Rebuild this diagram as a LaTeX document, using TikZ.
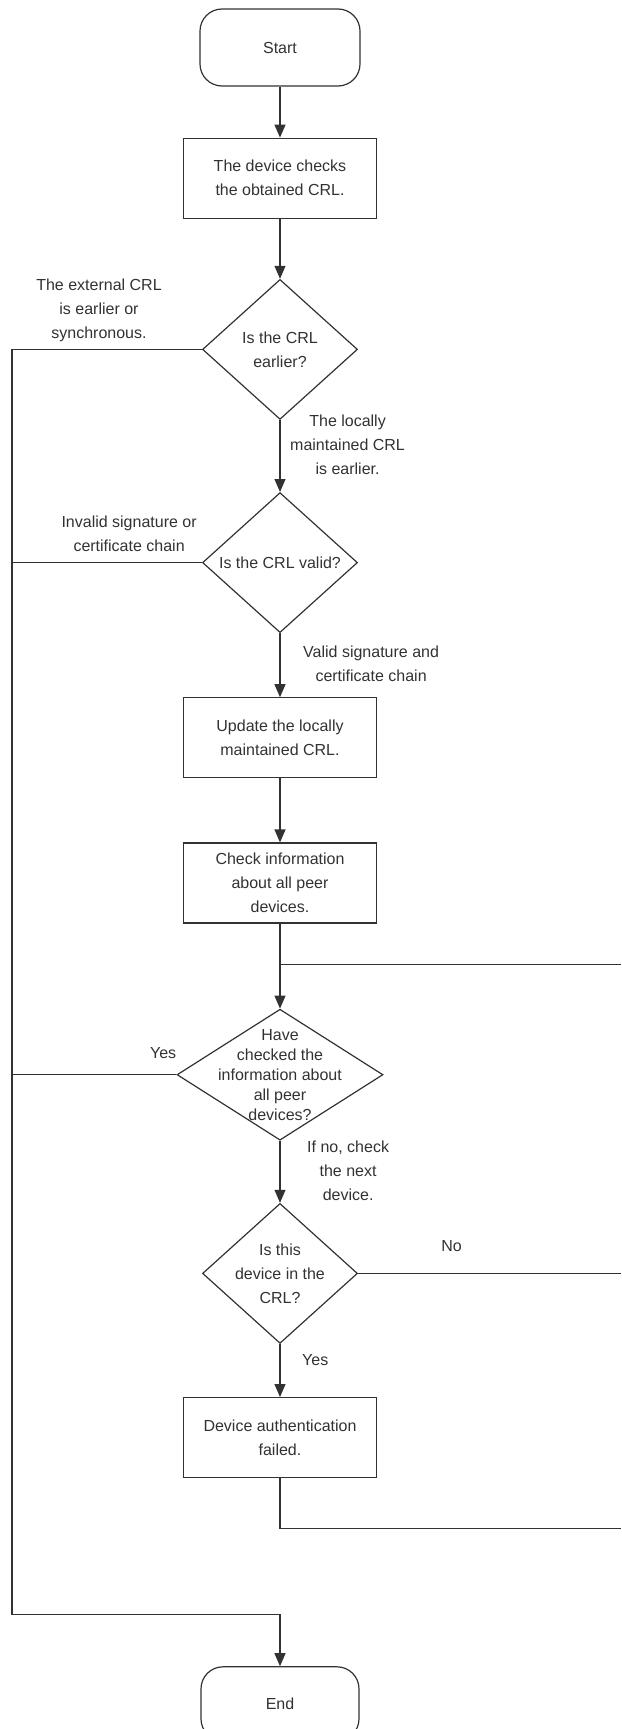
\documentclass[tikz,border=0pt]{standalone}
\usepackage{fontspec}
\setmainfont{Liberation Sans}
\usetikzlibrary{arrows.meta,positioning,shapes.geometric}
\definecolor{ink}{RGB}{50,50,50}

\begin{document}
\begin{tikzpicture}[font=\fontsize{16}{24}\selectfont,text=ink,
  term/.style={draw=ink,line width=1.2pt,rounded corners=22pt,minimum width=160pt,minimum height=77pt},
  b/.style={draw=ink,line width=1.2pt,minimum width=193pt,minimum height=80pt,align=center,inner sep=2pt},
  dia/.style={draw=ink,line width=1.2pt,diamond,inner sep=0pt,minimum width=155pt,minimum height=140pt},
  dt/.style={align=center,inner sep=0pt},
  lbl/.style={align=center,inner sep=0pt},
  ar/.style={draw=ink,line width=1.2pt,-{Triangle[length=13pt,width=11pt]}},
  wire/.style={draw=ink,line width=1.2pt}]
\useasboundingbox (0,0) rectangle (621pt,-1729pt);
\node[term] (start) at (280pt,-47.5pt) {Start};
\node[b,below=51pt of start] (chk) {The device checks\\the obtained CRL.};
\node[dia,below=60pt of chk] (q1) {};
\node[dt] (q1t) at (q1) {Is the CRL\\earlier?};
\node[dia,below=72pt of q1] (q2) {};
\node[dt] (q2t) at (q2) {Is the CRL valid?};
\node[b,below=64pt of q2] (upd) {Update the locally\\maintained CRL.};
\node[b,below=64pt of upd] (peers) {Check information\\about all peer\\devices.};
\coordinate[below=41pt of peers] (jn);
\node[dia,minimum width=206pt,minimum height=131pt,below=85pt of peers] (q3) {};
\node[dt,font=\fontsize{16}{20}\selectfont] (q3t) at (q3) {Have\\checked the\\information about\\all peer\\devices?};
\node[dia,below=62pt of q3] (q4) {};
\node[dt] (q4t) at (q4) {Is this\\device in the\\CRL?};
\node[b,below=53pt of q4] (fail) {Device authentication\\failed.};
\coordinate[below=50pt of fail] (floop);
\node[term,minimum width=158pt,minimum height=74pt,below=188pt of fail] (end) {End};
\coordinate[above=52pt of end] (bend);
\coordinate (ledge) at (12pt,0);
\coordinate (redge) at (621pt,0);
% branch labels
\node[lbl,above left=7pt and 40pt of q1.west] (l1) {The external CRL\\is earlier or\\synchronous.};
\node[lbl,below right=-5pt and 10pt of q1.south] (l2) {The locally\\maintained CRL\\is earlier.};
\node[lbl,above left=11pt and 5pt of q2.west] (l3) {Invalid signature or\\certificate chain};
\node[lbl,below right=12pt and 23pt of q2.south] (l4) {Valid signature and\\certificate chain};
\node[lbl,above left=16pt and 0pt of q3.west] (yes1) {Yes};
\node[lbl,below right=0pt and 27pt of q3.south] (l5) {If no, check\\the next\\device.};
\node[lbl,above right=22pt and 83pt of q4.east] (no) {No};
\node[lbl,below right=10pt and 22pt of q4.south] (yes2) {Yes};
% main flow
\draw[ar] (start) -- (chk);
\draw[ar] (chk) -- (q1);
\draw[ar] (q1) -- (q2);
\draw[ar] (q2) -- (upd);
\draw[ar] (upd) -- (peers);
\draw[ar] (peers) -- (q3);
\draw[ar] (q3) -- (q4);
\draw[ar] (q4) -- (fail);
% loop back on the right
\draw[wire] (jn) -- (jn -| redge);
\draw[wire] (q4.east) -- (q4.east -| redge);
\draw[wire] (fail) -- (floop) -- (floop -| redge);
% exits on the left
\draw[ar] (q1.west) -- (q1.west -| ledge) |- (bend) -- (end);
\draw[wire] (q2.west) -- (q2.west -| ledge);
\draw[wire] (q3.west) -- (q3.west -| ledge);
\end{tikzpicture}
\end{document}
